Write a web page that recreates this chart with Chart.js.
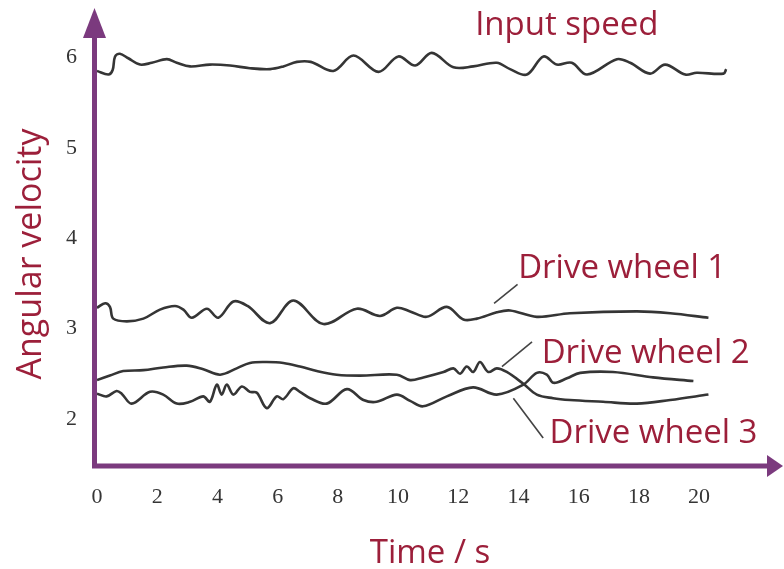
<!DOCTYPE html>
<html>
<head>
<meta charset="utf-8">
<script src="https://cdn.jsdelivr.net/npm/chart.js@4/dist/chart.umd.min.js"></script>
<style>
  html, body { margin: 0; padding: 0; background: #fff; }
  #wrap { width: 784px; height: 569px; position: relative; }
</style>
</head>
<body>
<div id="wrap"><canvas id="chart"></canvas></div>
<script>
/* ── Data (time in s, angular velocity) ── */
const xTicks = [0, 2, 4, 6, 8, 10, 12, 14, 16, 18, 20];
const yTicks = [2, 3, 4, 5, 6];

const inputT = [0, 0.38, 0.52, 0.6, 0.76, 1.04, 1.43, 1.82, 2.32, 2.65, 3.09, 3.75, 4.42, 5.08, 5.75, 6.19, 6.64, 7.1, 7.85, 8.52, 9.35, 10.01, 10.57, 11.12, 11.84, 12.5, 13.28, 13.72, 14.28, 14.83, 15.27, 15.77, 16.28, 17.27, 17.71, 18.37, 18.87, 19.54, 19.92, 20.81, 20.9];
const inputV = [5.85, 5.81, 5.86, 6.01, 6.04, 5.99, 5.92, 5.94, 5.98, 5.94, 5.9, 5.92, 5.91, 5.88, 5.87, 5.9, 5.95, 5.95, 5.85, 6.02, 5.84, 6.01, 5.91, 6.05, 5.89, 5.9, 5.94, 5.87, 5.81, 6.01, 5.92, 5.94, 5.81, 5.98, 5.94, 5.82, 5.92, 5.81, 5.83, 5.82, 5.87];

const wheel1T = [0, 0.27, 0.43, 0.54, 0.99, 1.54, 2.09, 2.59, 2.87, 3.15, 3.65, 4.03, 4.53, 5.0, 5.75, 6.52, 7.52, 8.63, 9.4, 9.96, 10.4, 10.95, 11.62, 12.17, 12.62, 13.28, 13.72, 14.61, 15.71, 17.93, 19.04, 20.31];
const wheel1V = [3.23, 3.28, 3.24, 3.11, 3.08, 3.11, 3.21, 3.25, 3.21, 3.12, 3.22, 3.12, 3.3, 3.25, 3.06, 3.31, 3.05, 3.22, 3.14, 3.23, 3.19, 3.13, 3.24, 3.1, 3.11, 3.18, 3.2, 3.13, 3.17, 3.19, 3.17, 3.12];

const wheel2T = [0, 0.43, 0.87, 1.54, 2.2, 2.98, 3.53, 4.09, 4.64, 5.08, 5.64, 6.19, 6.74, 7.3, 7.96, 8.74, 9.96, 10.4, 10.84, 11.51, 11.84, 12.06, 12.28, 12.5, 12.72, 13.0, 13.28, 13.61, 14.16, 14.61, 15.15, 15.71, 16.81, 17.93, 19.04, 20.31];
const wheel2V = [2.43, 2.48, 2.53, 2.54, 2.57, 2.59, 2.55, 2.49, 2.56, 2.62, 2.63, 2.62, 2.58, 2.53, 2.49, 2.48, 2.49, 2.43, 2.46, 2.52, 2.56, 2.5, 2.58, 2.52, 2.63, 2.52, 2.56, 2.52, 2.39, 2.27, 2.23, 2.21, 2.19, 2.17, 2.21, 2.27];

const wheel3T = [0, 0.32, 0.65, 0.82, 1.15, 1.76, 2.2, 2.65, 3.09, 3.53, 3.75, 3.98, 4.14, 4.31, 4.53, 4.81, 5.08, 5.31, 5.64, 5.97, 6.19, 6.52, 6.74, 7.08, 7.63, 8.3, 8.85, 9.29, 9.96, 10.4, 10.83, 11.62, 12.49, 13.28, 14.16, 14.61, 14.94, 15.16, 15.61, 16.05, 17.14, 18.47, 19.81];
const wheel3V = [2.28, 2.25, 2.31, 2.28, 2.17, 2.3, 2.27, 2.17, 2.19, 2.25, 2.19, 2.38, 2.27, 2.38, 2.27, 2.36, 2.3, 2.29, 2.12, 2.25, 2.22, 2.34, 2.3, 2.23, 2.17, 2.33, 2.21, 2.19, 2.27, 2.2, 2.14, 2.25, 2.35, 2.27, 2.38, 2.51, 2.49, 2.4, 2.45, 2.51, 2.52, 2.46, 2.42];

const seriesNames = ['Input speed', 'Drive wheel 1', 'Drive wheel 2', 'Drive wheel 3'];

// ── Styles ────────────────────────────────────
const AXIS = '#7b3a7e';
const RED = '#9c1f3a';
const INK = '#353535';
const LABEL_FONT = '33px "Open Sans", sans-serif';
const TICK_FONT = { family: '"Liberation Serif", "DejaVu Serif", serif', size: 22 };

// callout text anchors and leader lines, in data units
const callouts = [
  { text: seriesNames[0], t: 12.56, v: 6.25 },
  { text: seriesNames[1], t: 13.99, v: 3.556, from: [13.19, 3.28], to: [13.97, 3.49] },
  { text: seriesNames[2], t: 14.77, v: 2.616, from: [13.45, 2.578], to: [14.45, 2.852] },
  { text: seriesNames[3], t: 15.03, v: 1.731, from: [13.83, 2.229], to: [14.82, 1.79] }
];

const toPoints = (ts, vs) => ts.map((t, i) => ({ x: t, y: vs[i] }));

function lineSet(label, ts, vs) {
  return {
    label,
    data: toPoints(ts, vs),
    borderColor: INK,
    borderWidth: 2.6,
    pointRadius: 0,
    tension: 0.35,
    fill: false
  };
}

// scales should not push the plot area around for their end labels
function noPad(s) {
  s.paddingTop = 0;
  s.paddingBottom = 0;
  s.paddingLeft = 0;
  s.paddingRight = 0;
}

// ── Axes, arrows, callouts, titles ────────────
const overlay = {
  id: 'overlay',
  afterDatasetsDraw(chart) {
    const { ctx, chartArea: a, scales: { x, y } } = chart;
    ctx.save();

    // axis lines
    ctx.strokeStyle = AXIS;
    ctx.fillStyle = AXIS;
    ctx.lineWidth = 5;
    ctx.beginPath();
    ctx.moveTo(a.left - 2.5, a.bottom + 2.5);
    ctx.lineTo(a.left - 2.5, a.top + 28);
    ctx.moveTo(a.left - 5, a.bottom);
    ctx.lineTo(a.right - 12, a.bottom);
    ctx.stroke();

    // arrow heads
    ctx.beginPath();
    ctx.moveTo(a.left - 2.5, a.top);
    ctx.lineTo(a.left - 14, a.top + 30);
    ctx.lineTo(a.left + 9, a.top + 30);
    ctx.closePath();
    ctx.fill();
    ctx.beginPath();
    ctx.moveTo(a.right + 2, a.bottom);
    ctx.lineTo(a.right - 14, a.bottom - 11);
    ctx.lineTo(a.right - 14, a.bottom + 11);
    ctx.closePath();
    ctx.fill();

    // leader lines
    ctx.strokeStyle = '#444';
    ctx.lineWidth = 1.6;
    callouts.forEach(c => {
      if (!c.from) return;
      ctx.beginPath();
      ctx.moveTo(x.getPixelForValue(c.from[0]), y.getPixelForValue(c.from[1]));
      ctx.lineTo(x.getPixelForValue(c.to[0]), y.getPixelForValue(c.to[1]));
      ctx.stroke();
    });

    // callout text
    ctx.fillStyle = RED;
    ctx.font = LABEL_FONT;
    ctx.textAlign = 'left';
    ctx.textBaseline = 'alphabetic';
    callouts.forEach(c => ctx.fillText(c.text, x.getPixelForValue(c.t), y.getPixelForValue(c.v)));

    // axis titles
    ctx.textAlign = 'center';
    ctx.fillText('Time / s', 430, 563);
    ctx.translate(41, 254);
    ctx.rotate(-Math.PI / 2);
    ctx.font = '34px "Open Sans", sans-serif';
    ctx.fillText('Angular velocity', 0, 0);

    ctx.restore();
  }
};

// ── Chart ─────────────────────────────────────
new Chart(document.getElementById('chart'), {
  type: 'line',
  data: {
    datasets: [
      lineSet(seriesNames[0], inputT, inputV),
      lineSet(seriesNames[1], wheel1T, wheel1V),
      lineSet(seriesNames[2], wheel2T, wheel2V),
      lineSet(seriesNames[3], wheel3T, wheel3V)
    ]
  },
  options: {
    responsive: true,
    maintainAspectRatio: false,
    animation: false,
    layout: { padding: { left: 0, top: 8, right: 3, bottom: 0 } },
    plugins: { legend: { display: false }, tooltip: { enabled: false } },
    scales: {
      x: {
        type: 'linear',
        min: 0,
        max: 22.72,
        grid: { display: false, drawTicks: false },
        border: { display: false },
        afterBuildTicks: s => { s.ticks = xTicks.map(v => ({ value: v })); },
        afterFit: s => { s.height = 103; noPad(s); },
        ticks: { color: INK, font: TICK_FONT, padding: 18, maxRotation: 0, autoSkip: false }
      },
      y: {
        type: 'linear',
        min: 1.48,
        max: 6.546,
        grid: { display: false, drawTicks: false },
        border: { display: false },
        afterBuildTicks: s => { s.ticks = yTicks.map(v => ({ value: v })); },
        afterFit: s => { s.width = 97; noPad(s); },
        ticks: { color: INK, font: TICK_FONT, padding: 20 }
      }
    }
  },
  plugins: [overlay]
});
</script>
</body>
</html>
